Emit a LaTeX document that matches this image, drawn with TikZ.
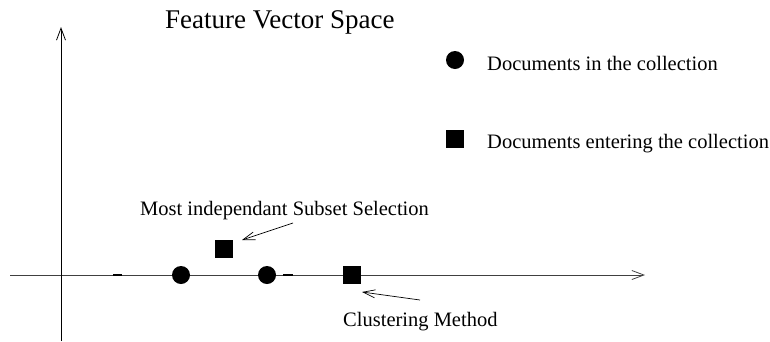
\documentclass[tikz,border=0pt]{standalone}
\usepackage{fontspec}
\setmainfont{Liberation Serif}
\usetikzlibrary{arrows.meta}

\tikzset{
  axis/.style={line width=0.9pt, -{Straight Barb[length=12pt,width=9pt,line width=0.8pt]}},
  pointer/.style={line width=0.7pt, -{Straight Barb[length=12pt,width=8pt,line width=0.7pt]}},
  docdot/.style={circle, fill=black, inner sep=0pt, minimum size=18pt},
  docsquare/.style={rectangle, fill=black, inner sep=0pt, minimum size=18pt},
  tickmark/.style={line width=1.4pt, black},
  lbl/.style={anchor=base west, inner sep=0pt, font=\fontsize{20.5}{24}\selectfont},
  ttl/.style={anchor=base west, inner sep=0pt, font=\fontsize{27}{32}\selectfont},
}

\begin{document}
\begin{tikzpicture}[x=1pt, y=-1pt]
  \useasboundingbox (0,0) rectangle (770,341);

  % axes
  \coordinate (xstart) at (10,275);
  \coordinate (xend)   at (645,275);
  \coordinate (ystart) at (61,341);
  \coordinate (yend)   at (61,27);
  \draw[axis, black!75] (xstart) -- (xend);
  \draw[axis] (ystart) -- (yend);

  % small tick marks on the horizontal axis
  \coordinate (t1a) at (113,275); \coordinate (t1b) at (122,275);
  \coordinate (t2a) at (283,275); \coordinate (t2b) at (293,275);
  \draw[tickmark] (t1a) -- (t1b);
  \draw[tickmark] (t2a) -- (t2b);

  % title
  \node[ttl] (title) at (165,28) {Feature Vector Space};

  % documents on the axis
  \node[docdot] (d1) at (181,275) {};
  \node[docdot] (d2) at (267,275) {};
  \node[docsquare] (s1) at (224,249) {};
  \node[docsquare] (s2) at (352,275) {};

  % legend
  \node[docdot] (legdot) at (455,60) {};
  \node[lbl] (legdottxt) at (487,70) {Documents in the collection};
  \node[docsquare] (legsq) at (455,138.5) {};
  \node[lbl] (legsqtxt) at (487,148) {Documents entering the collection};

  % annotations
  \node[lbl] (mis) at (140,215) {Most independant Subset Selection};
  \coordinate (misfrom) at (293,223);
  \coordinate (misto)   at (242,240);
  \draw[pointer] (misfrom) -- (misto);

  \node[lbl] (clu) at (343,326) {Clustering Method};
  \coordinate (clufrom) at (420,300);
  \coordinate (cluto)   at (362,292);
  \draw[pointer] (clufrom) -- (cluto);
\end{tikzpicture}
\end{document}
